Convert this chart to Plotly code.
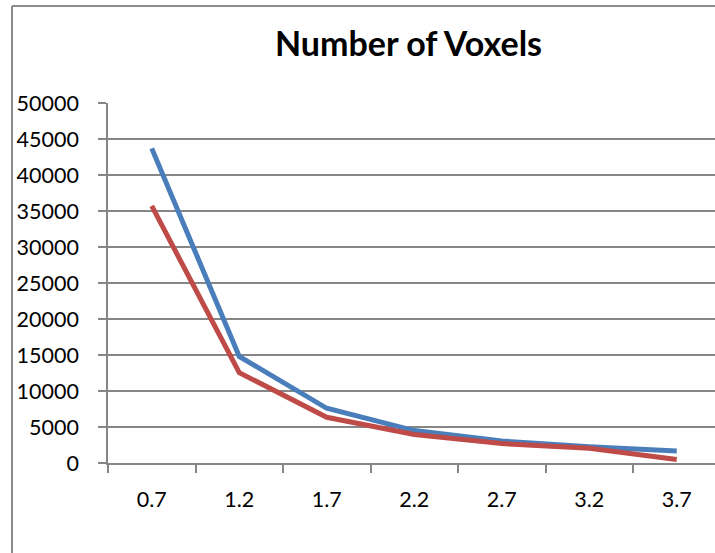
import plotly.graph_objects as go

categories = ["0.7", "1.2", "1.7", "2.2", "2.7", "3.2", "3.7"]
series_blue = [43700, 14800, 7600, 4500, 3050, 2250, 1650]
series_red = [35700, 12550, 6350, 3950, 2700, 2050, 500]
y_ticks = [0, 5000, 10000, 15000, 20000, 25000, 30000, 35000, 40000, 45000, 50000]

W, H = 715, 553
L, R, T, B = 108, 0, 103, 90
pw = W - L - R
ph = H - T - B
FONT = "Lato, 'Open Sans', sans-serif"
CAT_PX = 87.5

fig = go.Figure()
fig.add_trace(go.Scatter(x=categories, y=series_blue, mode="lines",
                         line=dict(color="#4A7EBB", width=5), showlegend=False))
fig.add_trace(go.Scatter(x=categories, y=series_red, mode="lines",
                         line=dict(color="#BE4B48", width=5), showlegend=False))

def px_x(p):
    return (p - L) / pw

def px_y(p):
    return (H - B - p) / ph

fig.update_layout(
    width=W, height=H,
    margin=dict(l=L, r=R, t=T, b=B, pad=0),
    paper_bgcolor="white", plot_bgcolor="white",
    font=dict(family=FONT, size=21.5, color="black"),
    annotations=[dict(text="<b>Number of Voxels</b>", x=px_x(408), y=px_y(43),
                      xref="paper", yref="paper", showarrow=False,
                      font=dict(size=34, family=FONT),
                      xanchor="center", yanchor="middle")],
    shapes=[
        dict(type="line", xref="paper", yref="paper", x0=px_x(12), x1=px_x(12),
             y0=px_y(6), y1=px_y(560), line=dict(color="#8C8C8C", width=2)),
        dict(type="line", xref="paper", yref="paper", x0=px_x(12), x1=px_x(720),
             y0=px_y(6), y1=px_y(6), line=dict(color="#8C8C8C", width=2)),
    ],
)
fig.update_xaxes(type="category", tickson="boundaries", ticks="outside", ticklen=8,
                 tickcolor="#868686", tickwidth=1.5, showgrid=False,
                 showline=True, linecolor="#868686", linewidth=1.5,
                 ticklabelstandoff=16, range=[-0.5, -0.5 + pw / CAT_PX])
fig.update_yaxes(range=[0, 50000], tickvals=y_ticks, ticktext=[str(v) for v in y_ticks],
                 ticks="outside", ticklen=8, tickcolor="#868686", tickwidth=1.5,
                 showgrid=True, gridcolor="#868686", gridwidth=1.5,
                 showline=True, linecolor="#868686", linewidth=1.5,
                 zeroline=False, ticklabelstandoff=15)

fig.write_html("out.html", config={"displayModeBar": False},
               post_script="document.body.style.margin='0px';")
